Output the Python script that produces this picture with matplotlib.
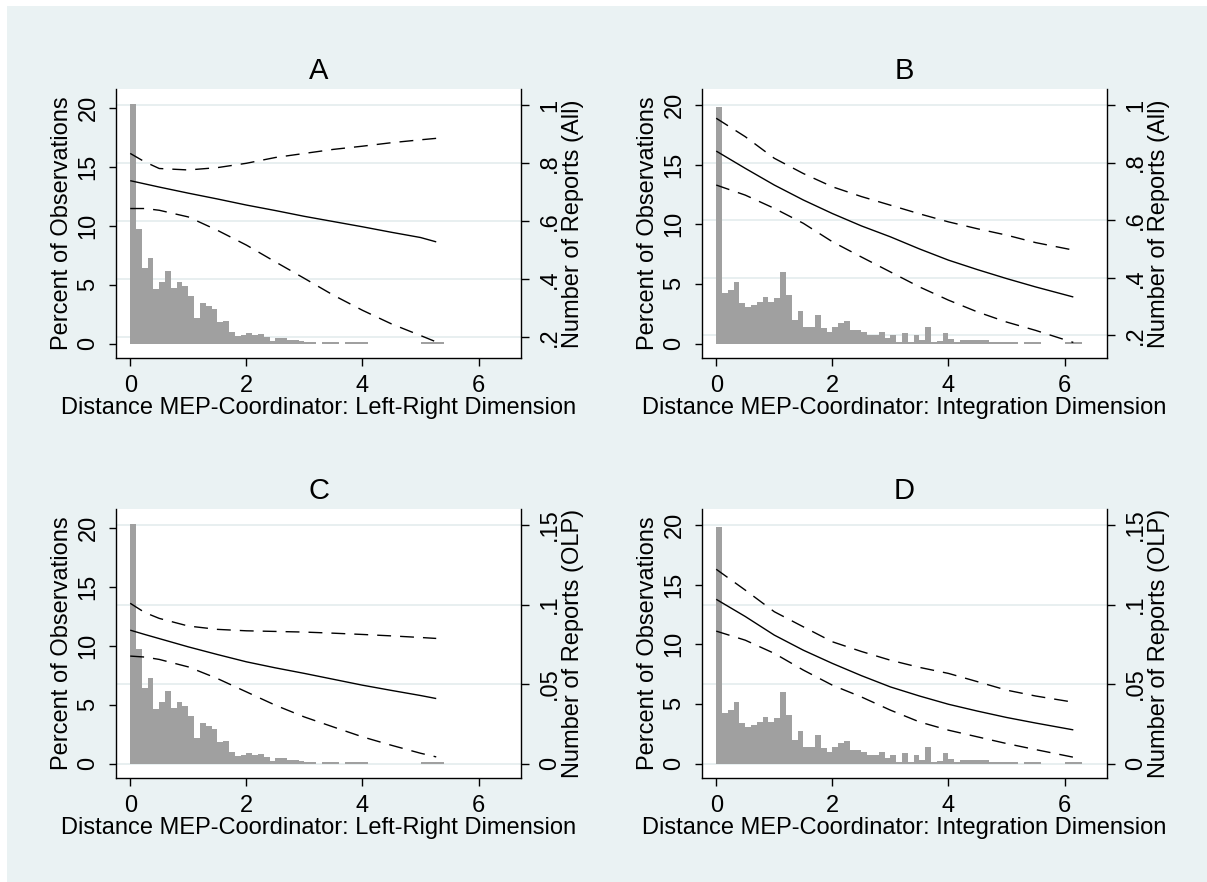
import numpy as np
import matplotlib
matplotlib.use("Agg")
import matplotlib.pyplot as plt
from matplotlib.patches import Rectangle

plt.rcParams['font.family'] = ['Liberation Sans', 'DejaVu Sans']

# ---------------- data ----------------
BIN_W = 0.1
# histogram (percent of observations) - Left-Right dimension (panels A, C)
hist_lr = [20.4, 9.7, 6.45, 7.3, 4.6, 5.2, 6.2, 4.75, 5.2, 4.9,
           4.0, 2.2, 3.45, 3.2, 2.9, 1.85, 1.9, 1.0, 0.62, 0.75,
           0.9, 0.7, 0.77, 0.57, 0.23, 0.5, 0.43, 0.28, 0.34,
           0.2, 0.15, 0.15, 0.0, 0.1, 0.1, 0.1, 0.0, 0.1, 0.1, 0.1, 0.1,
           0, 0, 0, 0, 0, 0, 0, 0, 0,
           0.1, 0.1, 0.1, 0.1]
# histogram - Integration dimension (panels B, D)
hist_int = [19.8, 4.2, 4.5, 5.2, 3.4, 3.1, 3.25, 3.5, 3.9, 3.5,
            3.8, 6.0, 4.1, 2.0, 2.7, 1.4, 1.4, 2.4, 1.3, 1.0,
            1.4, 1.75, 1.85, 1.15, 1.15, 1.0, 0.75, 0.75, 1.0, 0.45,
            0.7, 0.1, 0.85, 0.1, 0.75, 0.3, 1.4, 0.1, 0.25, 0.85,
            0.35, 0.15, 0.3, 0.3, 0.3, 0.3, 0.3,
            0.15, 0.15, 0.15, 0.15, 0.15, 0.0,
            0.15, 0.15, 0.15, 0, 0, 0, 0,
            0.15, 0.15, 0.15]

# predicted number of reports with confidence bands
x_lr = [0, 0.25, 0.5, 1, 1.5, 2, 2.5, 3, 3.5, 4, 4.5, 5, 5.27]
a_main = [0.739, 0.728, 0.717, 0.696, 0.676, 0.655, 0.636, 0.616, 0.598, 0.580, 0.561, 0.543, 0.528]
a_up = [0.833, 0.804, 0.781, 0.776, 0.784, 0.799, 0.819, 0.833, 0.847, 0.858, 0.870, 0.880, 0.885]
a_lo = [0.643, 0.643, 0.637, 0.614, 0.568, 0.517, 0.459, 0.402, 0.344, 0.292, 0.245, 0.205, 0.183]

c_main = [0.0839, 0.0812, 0.0786, 0.0734, 0.0686, 0.0640, 0.0602, 0.0567, 0.0530, 0.0493, 0.0460, 0.0428, 0.0409]
c_up = [0.1008, 0.0950, 0.0913, 0.0865, 0.0844, 0.0835, 0.0831, 0.0827, 0.0820, 0.0812, 0.0803, 0.0793, 0.0787]
c_lo = [0.0676, 0.0670, 0.0655, 0.0608, 0.0535, 0.0451, 0.0367, 0.0293, 0.0230, 0.0168, 0.0115, 0.0065, 0.0042]

x_int = [0, 0.5, 1, 1.5, 2, 2.5, 3, 3.5, 4, 4.5, 5, 5.5, 6.15]
b_main = [0.840, 0.780, 0.722, 0.670, 0.623, 0.580, 0.542, 0.500, 0.461, 0.428, 0.397, 0.368, 0.333]
b_up = [0.954, 0.890, 0.815, 0.762, 0.716, 0.682, 0.652, 0.622, 0.594, 0.570, 0.548, 0.522, 0.496]
b_lo = [0.722, 0.687, 0.641, 0.589, 0.525, 0.472, 0.420, 0.368, 0.322, 0.281, 0.246, 0.217, 0.175]

d_main = [0.1033, 0.0925, 0.0808, 0.0713, 0.0630, 0.0553, 0.0482, 0.0425, 0.0373, 0.0330, 0.0290, 0.0255, 0.0212]
d_up = [0.1222, 0.1091, 0.0955, 0.0860, 0.0766, 0.0705, 0.0650, 0.0605, 0.0567, 0.0515, 0.0462, 0.0425, 0.0386]
d_lo = [0.0833, 0.0776, 0.0693, 0.0588, 0.0493, 0.0419, 0.0336, 0.0262, 0.0210, 0.0168, 0.0126, 0.0088, 0.0040]

titles = ["A", "B", "C", "D"]
xlabels = ["Distance MEP-Coordinator: Left-Right Dimension",
           "Distance MEP-Coordinator: Integration Dimension",
           "Distance MEP-Coordinator: Left-Right Dimension",
           "Distance MEP-Coordinator: Integration Dimension"]
left_label = "Percent of Observations"
right_labels = ["Number of Reports (All)", "Number of Reports (All)",
                "Number of Reports (OLP)", "Number of Reports (OLP)"]
x_ticks = [0, 2, 4, 6]
left_ticks = [0, 5, 10, 15, 20]
left_tick_labels = ["0", "5", "10", "15", "20"]
right_ticks_all = [0.2, 0.4, 0.6, 0.8, 1.0]
right_tick_labels_all = [".2", ".4", ".6", ".8", "1"]
right_ticks_olp = [0.0, 0.05, 0.1, 0.15]
right_tick_labels_olp = ["0", ".05", ".1", ".15"]

# ---------------- style ----------------
W, H = 1207, 882
BG = '#EAF2F3'
GRID_C = '#E4ECEE'
HIST_C = '#A0A0A0'
FS = 17.0
TFS = 21

fig = plt.figure(figsize=(W / 100, H / 100), dpi=100)
fig.patch.set_facecolor('white')
fig.add_artist(Rectangle((7 / W, 0), 1 - 7 / W, 1 - 6 / H, transform=fig.transFigure,
                         facecolor=BG, edgecolor='none', zorder=-10))


def px_rect(l, t, r, b):
    return [l / W, 1 - b / H, (r - l) / W, (b - t) / H]


panels = [
    dict(rect=px_rect(116, 89, 521, 358), hist=hist_lr, x=x_lr, main=a_main, up=a_up, lo=a_lo,
         ylim=(-1.23, 21.64), y2lim=(0.1275, 1.0552),
         rt=right_ticks_all, rtl=right_tick_labels_all),
    dict(rect=px_rect(702, 89, 1107, 358), hist=hist_int, x=x_int, main=b_main, up=b_up, lo=b_lo,
         ylim=(-1.21, 21.33), y2lim=(0.121, 1.0557),
         rt=right_ticks_all, rtl=right_tick_labels_all),
    dict(rect=px_rect(116, 509, 521, 778), hist=hist_lr, x=x_lr, main=c_main, up=c_up, lo=c_lo,
         ylim=(-1.23, 21.64), y2lim=(-0.00907, 0.1601),
         rt=right_ticks_olp, rtl=right_tick_labels_olp),
    dict(rect=px_rect(702, 509, 1107, 778), hist=hist_int, x=x_int, main=d_main, up=d_up, lo=d_lo,
         ylim=(-1.21, 21.33), y2lim=(-0.00907, 0.1601),
         rt=right_ticks_olp, rtl=right_tick_labels_olp),
]

DASH = (0, (10, 6.5))

for i, p in enumerate(panels):
    ax = fig.add_axes(p['rect'])
    ax.set_facecolor('white')
    hist = np.asarray(p['hist'])
    edges = BIN_W * np.arange(len(hist))
    ax.bar(edges, hist, width=BIN_W, align='edge', color=HIST_C, linewidth=0, zorder=2)
    ax.set_xlim(-0.245, 6.73)
    ax.set_ylim(*p['ylim'])

    ax2 = ax.twinx()
    ax2.set_ylim(*p['y2lim'])
    # grid lines at the right-axis ticks, drawn behind the bars
    l0, l1 = p['ylim']
    r0, r1 = p['y2lim']
    for t in p['rt']:
        ax.axhline(l0 + (t - r0) * (l1 - l0) / (r1 - r0), color=GRID_C, lw=1.2, zorder=1)

    ax2.plot(p['x'], p['main'], color='black', lw=1.0, solid_capstyle='butt')
    ax2.plot(p['x'], p['up'], color='black', lw=1.0, linestyle=DASH)
    ax2.plot(p['x'], p['lo'], color='black', lw=1.0, linestyle=DASH)

    for s in ['top', 'right']:
        ax.spines[s].set_visible(False)
    for s in ['top', 'left', 'bottom']:
        ax2.spines[s].set_visible(False)
    for s in ['left', 'bottom']:
        ax.spines[s].set_linewidth(1.0)
        ax.spines[s].set_color('black')
    ax2.spines['right'].set_linewidth(1.0)
    ax2.spines['right'].set_color('black')

    ax.set_xticks(x_ticks)
    ax.set_xticklabels([str(v) for v in x_ticks])
    ax.set_yticks(left_ticks)
    ax.set_yticklabels(left_tick_labels, rotation=90, va='center')
    ax2.set_yticks(p['rt'])
    ax2.set_yticklabels(p['rtl'], rotation=90, va='center')

    ax.tick_params(axis='both', direction='out', length=5.4, width=1.0,
                   labelsize=FS, colors='black')
    ax.tick_params(axis='x', pad=7)
    ax.tick_params(axis='y', pad=6.5)
    ax2.tick_params(axis='y', direction='out', length=5.4, width=1.0,
                    labelsize=FS, colors='black', pad=7.5)

    ax.set_xlabel(xlabels[i], fontsize=FS)
    ax.xaxis.set_label_coords(0.5, -0.187)
    ax.xaxis.label.set_va('center')

    ax.set_ylabel(left_label, fontsize=FS)
    ax.yaxis.set_label_coords(-0.134, 0.5)
    ax.yaxis.label.set_va('center')
    ax.yaxis.label.set_ha('center')

    ax2.set_ylabel(right_labels[i], fontsize=FS, rotation=90)
    ax2.yaxis.set_label_coords(1.128, 0.5)
    ax2.yaxis.label.set_va('center')
    ax2.yaxis.label.set_ha('center')

    ax.set_title(titles[i], fontsize=TFS, pad=7)

fig.savefig('out.png', dpi=100)
